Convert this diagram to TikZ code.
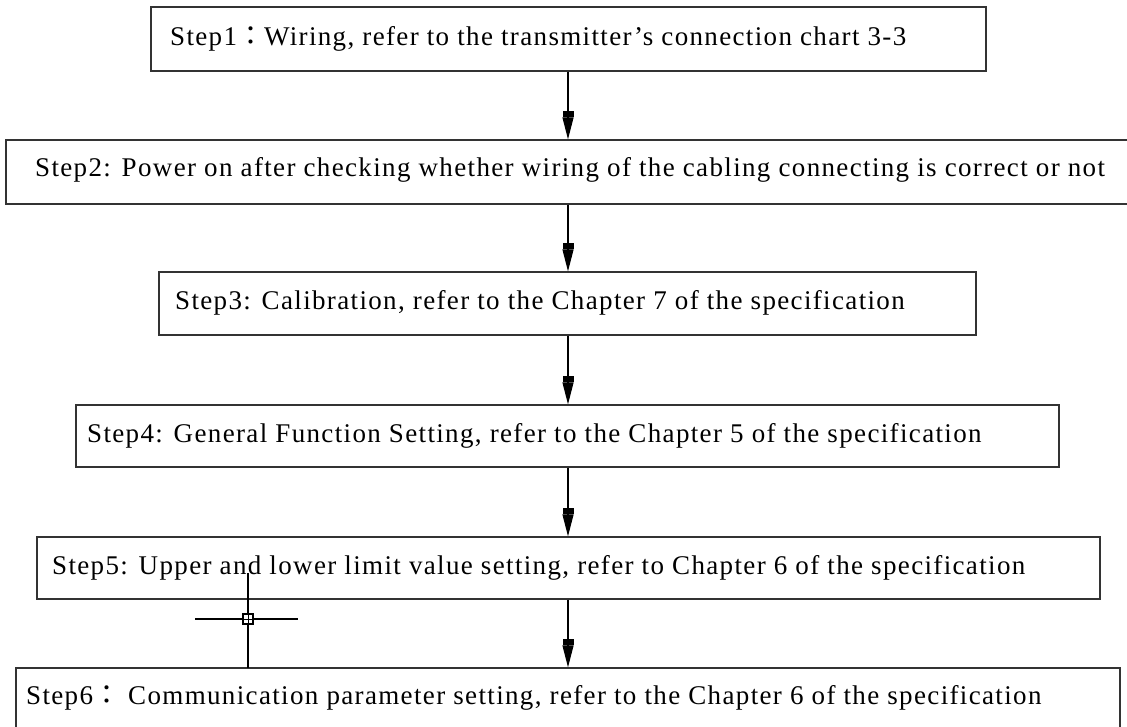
\documentclass[tikz,border=0pt]{standalone}
\usepackage{fontspec}
\setmainfont{Liberation Serif}
\newfontfamily\cjk{Noto Sans CJK JP}
\usetikzlibrary{arrows.meta}
\definecolor{boxgray}{HTML}{333333}
\begin{document}
\begin{tikzpicture}[x=1pt,y=-1pt,
  box/.style={draw=boxgray, line width=1.3pt, rectangle, inner sep=0pt},
  lbl/.style={anchor=base west, inner sep=0pt, text=black,
    font=\fontsize{27}{31}\selectfont\addfontfeature{LetterSpace=5}},
  arr/.style={draw=black, line width=1.2pt,
    -{Rectangle[width=11pt,length=6pt,sep=0pt]Triangle[width=11pt,length=22pt,sep=0pt]}},
  cursorline/.style={draw=black, line width=1.2pt}]
\useasboundingbox (0,0) rectangle (1127,727);
\fill[white] (0,0) rectangle (1127,727);
\coordinate (ax) at (568,0);
% boxes
\node[box, minimum width=835pt, minimum height=64pt] (s1) at (568.5,39) {};
\node[box, minimum width=1124pt, minimum height=64pt] (s2) at (568,172) {};
\node[box, minimum width=817pt, minimum height=63pt] (s3) at (567.5,303.5) {};
\node[box, minimum width=983pt, minimum height=62pt] (s4) at (567.5,436) {};
\node[box, minimum width=1063pt, minimum height=62pt] (s5) at (568.5,568) {};
\node[box, minimum width=1104pt, minimum height=72pt] (s6) at (568,704) {};
% texts
\node[lbl] (t1) at (170,46) {Step1{\cjk ：}Wiring, refer to the transmitter's connection chart 3-3};
\node[lbl] (t2) at (35,177) {Step2: Power on after checking whether wiring of the cabling connecting is correct or not};
\node[lbl] (t3) at (175,309) {Step3: Calibration, refer to the Chapter 7 of the specification};
\node[lbl] (t4) at (87,442) {Step4: General Function Setting, refer to the Chapter 5 of the specification};
\node[lbl] (t5) at (52,574) {Step5: Upper and lower limit value setting, refer to Chapter 6 of the specification};
\node[lbl] (t6) at (26,704) {Step6{\cjk ：} Communication parameter setting, refer to the Chapter 6 of the specification};
% connectors
\draw[arr] (s1.south -| ax) -- (s2.north -| ax);
\draw[arr] (s2.south -| ax) -- (s3.north -| ax);
\draw[arr] (s3.south -| ax) -- (s4.north -| ax);
\draw[arr] (s4.south -| ax) -- (s5.north -| ax);
\draw[arr] (s5.south -| ax) -- (s6.north -| ax);
% cursor crosshair
\coordinate (cur) at (248,619);
\draw[cursorline] (248,573) -- (248,668);
\draw[cursorline] (195,619) -- (298,619);
\draw[cursorline, fill=white] (243,614) rectangle (253,624);
\draw[cursorline, line width=0.8pt] (248,614) -- (248,624) (243,619) -- (253,619);
\end{tikzpicture}
\end{document}
